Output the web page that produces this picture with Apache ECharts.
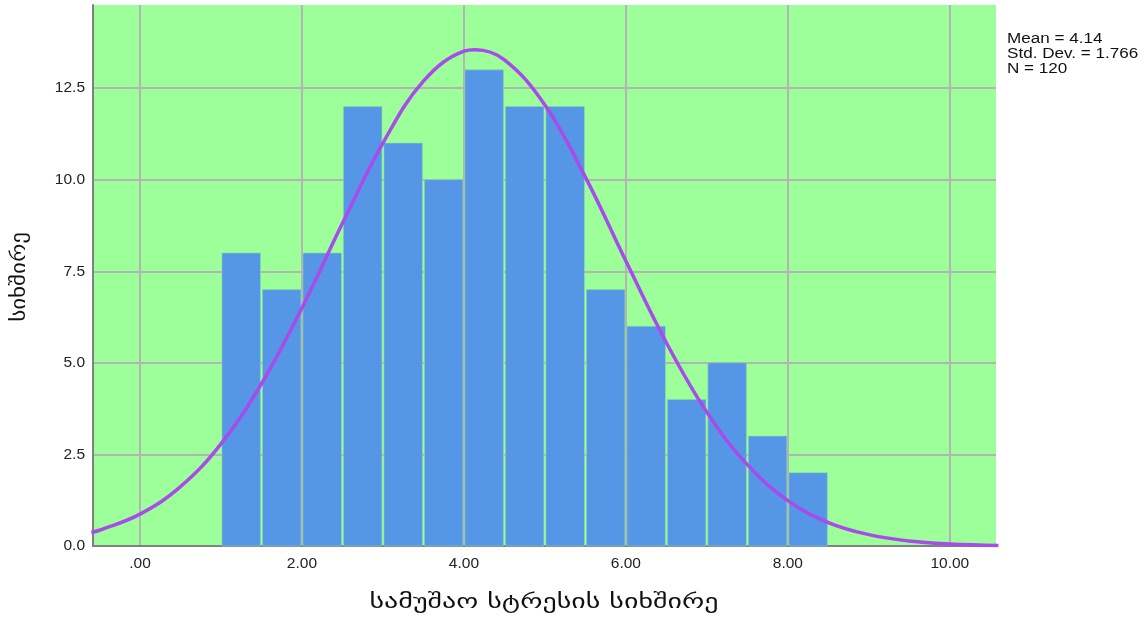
<!DOCTYPE html>
<html><head><meta charset="utf-8">
<script src="https://cdn.jsdelivr.net/npm/echarts@6/dist/echarts.min.js"></script>
<style>html,body{margin:0;padding:0;background:#fff}#c{width:1147px;height:620px}</style>
</head><body><div id="c"></div>
<script>
// Histogram bins (start, end) and counts
var binStarts = [1.0,1.5,2.0,2.5,3.0,3.5,4.0,4.5,5.0,5.5,6.0,6.5,7.0,7.5,8.0];
var binWidth = 0.5;
var counts = [8,7,8,12,11,10,13,12,12,7,6,4,5,3,2];
// Normal curve points
var curveX = [-0.6,-0.5,0,0.5,1.0,1.5,2.0,2.5,3.0,3.5,4.0,4.14,4.5,5.0,5.5,6.0,6.5,7.0,7.5,8.0,8.5,9.0,9.5,10.0,10.6];
var curveY = [0.37,0.43,0.87,1.62,2.79,4.43,6.50,8.81,11.00,12.69,13.51,13.55,13.27,12.04,10.07,7.78,5.55,3.65,2.22,1.24,0.64,0.31,0.135,0.055,0.016];
var xTicks = [0,2,4,6,8,10];
var yTicks = [0,2.5,5,7.5,10,12.5];
var statsText = ['Mean = 4.14','Std. Dev. = 1.766','N = 120'];
var xName = 'სამუშაო სტრესის სიხშირე';
var yName = 'სიხშირე';

var barData = binStarts.map(function(s,i){return [s, s+binWidth, counts[i]];});
var lineData = curveX.map(function(x,i){return [x, curveY[i]];});

var chart = echarts.init(document.getElementById('c'), null, {renderer:'canvas'});
chart.setOption({
  animation:false,
  backgroundColor:'#ffffff',
  grid:{left:93,right:151,top:5,bottom:74,show:true,backgroundColor:'#9CFF99',borderWidth:0},
  xAxis:{
    type:'value', min:-0.58, max:10.57,
    axisLine:{show:true,onZero:false,lineStyle:{color:'#808080',width:2}},
    axisTick:{show:false,customValues:xTicks},
    splitLine:{show:true,lineStyle:{color:'#b4b4b4',width:2}},
    axisLabel:{
      color:'#222',fontFamily:'Liberation Sans',fontSize:15.5,margin:10,
      customValues:xTicks,
      formatter:function(v){var s=v.toFixed(2);return v===0?'.00':s;}
    }
  },
  yAxis:{
    type:'value', min:0, max:14.77,
    axisLine:{show:true,onZero:false,lineStyle:{color:'#808080',width:2}},
    axisTick:{show:false,customValues:yTicks},
    splitLine:{show:true,lineStyle:{color:'#b4b4b4',width:2}},
    axisLabel:{color:'#222',fontFamily:'Liberation Sans',fontSize:15.5,margin:8,
      customValues:yTicks,
      formatter:function(v){return v.toFixed(1);}}
  },
  graphic:[{
    type:'text',x:1007,y:32,scaleX:1.22,
    style:{text:statsText.join('\n'),font:'14px "Liberation Sans"',fill:'#111',lineHeight:15}
  },{
    type:'text',x:544,y:603,scaleX:1.4,
    style:{text:xName,font:'20px "DejaVu Sans"',fill:'#111',align:'center',verticalAlign:'middle'}
  },{
    type:'text',x:20,y:277,rotation:Math.PI/2,scaleX:1.15,
    style:{text:yName,font:'20px "DejaVu Sans"',fill:'#111',align:'center',verticalAlign:'middle'}
  }],
  series:[{
    type:'custom',
    data:barData,
    encode:{x:[0,1],y:2},
    renderItem:function(params,api){
      var p0=api.coord([api.value(0),0]);
      var p1=api.coord([api.value(1),api.value(2)]);
      return {type:'rect',shape:{x:p0[0]+1,y:p1[1],width:p1[0]-p0[0]-2,height:p0[1]-p1[1]},
        style:{fill:'#5596E6',stroke:'#8fd6a8',lineWidth:0.6}};
    },
    z:2
  },{
    type:'line',data:lineData,smooth:0.4,showSymbol:false,
    lineStyle:{color:'#A94AEA',width:3.5},z:3,clip:true
  }]
});
</script></body></html>
